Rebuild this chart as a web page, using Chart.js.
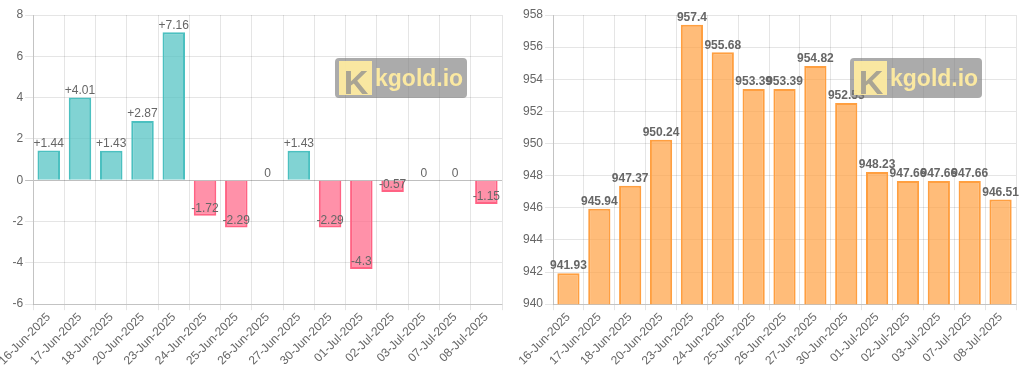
<!DOCTYPE html>
<html>
<head>
<meta charset="utf-8">
<script src="https://cdn.jsdelivr.net/npm/chart.js@4"></script>
<style>
html,body{margin:0;padding:0;background:#fff;}
#w1{position:absolute;left:0;top:0;width:508px;height:374px;}
#w2{position:absolute;left:512px;top:0;width:512px;height:374px;}
</style>
</head>
<body>
<div id="w1"><canvas id="c1"></canvas></div>
<div id="w2"><canvas id="c2"></canvas></div>
<script>
const categories = ['16-Jun-2025','17-Jun-2025','18-Jun-2025','20-Jun-2025','23-Jun-2025','24-Jun-2025','25-Jun-2025','26-Jun-2025','27-Jun-2025','30-Jun-2025','01-Jul-2025','02-Jul-2025','03-Jul-2025','07-Jul-2025','08-Jul-2025'];
const changeValues = [1.44, 4.01, 1.43, 2.87, 7.16, -1.72, -2.29, 0, 1.43, -2.29, -4.3, -0.57, 0, 0, -1.15];
const priceValues = [941.93, 945.94, 947.37, 950.24, 957.4, 955.68, 953.39, 953.39, 954.82, 952.53, 948.23, 947.66, 947.66, 947.66, 946.51];
const changeTicks = {min: -6, max: 8, step: 2};
const priceTicks = {min: 940, max: 958, step: 2};
const watermarkText = 'kgold.io';

Chart.defaults.font.family = '"Liberation Sans", Arial, sans-serif';
Chart.defaults.font.size = 12;
Chart.defaults.color = '#666';

const labelPlugin = {
  id: 'valLabels',
  afterDatasetsDraw(chart, args, opts) {
    const ctx = chart.ctx;
    const meta = chart.getDatasetMeta(0);
    const data = chart.data.datasets[0].data;
    ctx.save();
    ctx.font = (opts.bold ? 'bold ' : '') + '12px "Liberation Sans", Arial, sans-serif';
    ctx.fillStyle = '#666';
    ctx.textAlign = 'center';
    ctx.textBaseline = 'middle';
    meta.data.forEach((bar, i) => {
      const v = data[i];
      let t = opts.signed ? (v > 0 ? '+' + v : String(v)) : String(v);
      ctx.fillText(t, bar.x, bar.y - 7);
    });
    ctx.restore();
  }
};

const logoPlugin = {
  id: 'logo',
  afterDraw(chart, args, opts) {
    const ctx = chart.ctx;
    const a = chart.chartArea;
    const w = 132, h = 40;
    const x = a.right - opts.rightOff - w, y = 58;
    ctx.save();
    ctx.fillStyle = 'rgba(120,120,120,0.62)';
    ctx.beginPath();
    ctx.roundRect(x, y, w, h, 4);
    ctx.fill();
    ctx.fillStyle = 'rgba(255,236,160,0.92)';
    ctx.fillRect(x + 4, y + 3, 33, 34);
    ctx.fillStyle = '#a9a494';
    ctx.font = 'bold 34px "Liberation Sans", Arial, sans-serif';
    ctx.textAlign = 'center';
    ctx.textBaseline = 'alphabetic';
    ctx.fillText('K', x + 21, y + 36);
    ctx.fillStyle = 'rgba(255,236,160,0.95)';
    ctx.font = 'bold 23px "Liberation Sans", Arial, sans-serif';
    ctx.textAlign = 'left';
    ctx.fillText(watermarkText, x + 40, y + 28);
    ctx.restore();
  }
};

function makeOpts(t, leftPad, rightPad, zero) {
  return {
    responsive: true,
    maintainAspectRatio: false,
    animation: false,
    layout: {padding: {left: leftPad, right: rightPad, top: 15, bottom: 6}},
    plugins: {legend: {display: false}, tooltip: {enabled: false}},
    scales: {
      x: {
        grid: {color: 'rgba(0,0,0,0.1)', drawTicks: true, tickLength: 6},
        border: {color: 'rgba(0,0,0,0.15)'},
        ticks: {minRotation: 45, maxRotation: 45, autoSkip: false, color: '#666', font: {size: 12}, padding: 0}
      },
      y: {
        min: t.min, max: t.max,
        grid: {
          color: ctx => (zero && ctx.tick && ctx.tick.value === 0) ? 'rgba(0,0,0,0.25)' : 'rgba(0,0,0,0.1)',
          tickLength: 8
        },
        border: {color: 'rgba(0,0,0,0.15)'},
        ticks: {stepSize: t.step, color: '#666', font: {size: 12}, padding: 2}
      }
    }
  };
}

const o1 = makeOpts(changeTicks, 10, 6, true);
o1.plugins.valLabels = {signed: true, bold: false};
o1.plugins.logo = {rightOff: 35};
new Chart(document.getElementById('c1'), {
  type: 'bar',
  data: {
    labels: categories,
    datasets: [{
      data: changeValues,
      backgroundColor: changeValues.map(v => v >= 0 ? 'rgba(75,192,192,0.7)' : 'rgba(255,99,132,0.7)'),
      borderColor: changeValues.map(v => v >= 0 ? 'rgba(75,192,192,1)' : 'rgba(255,99,132,1)'),
      borderWidth: 2
    }]
  },
  options: o1,
  plugins: [labelPlugin, logoPlugin]
});

const o2 = makeOpts(priceTicks, 9, 8, false);
o2.plugins.valLabels = {signed: false, bold: true};
o2.plugins.logo = {rightOff: 34};
new Chart(document.getElementById('c2'), {
  type: 'bar',
  data: {
    labels: categories,
    datasets: [{
      data: priceValues,
      backgroundColor: 'rgba(255,159,64,0.7)',
      borderColor: 'rgba(255,159,64,1)',
      borderWidth: 2
    }]
  },
  options: o2,
  plugins: [labelPlugin, logoPlugin]
});
</script>
</body>
</html>
